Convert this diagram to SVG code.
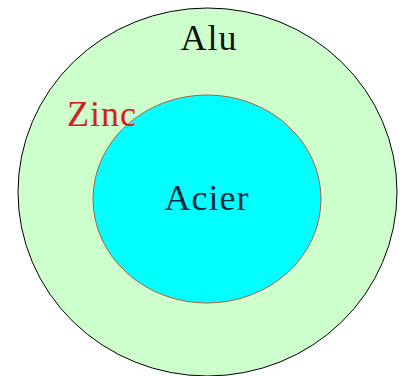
<svg xmlns="http://www.w3.org/2000/svg" width="406" height="376" viewBox="0 0 406 376">
<style>
text{font-family:"Liberation Serif","Times New Roman",serif;font-size:36px;letter-spacing:1px}
</style>
<rect width="406" height="376" fill="#ffffff"/>
<g id="alu">
<ellipse cx="207.5" cy="192" rx="189.5" ry="184" fill="#ccffcc" stroke="#000000" stroke-width="1"/>
<text x="209" y="50" text-anchor="middle" fill="#111111">Alu</text>
</g>
<g id="acier">
<ellipse cx="207" cy="199" rx="114" ry="104" fill="#00ffff" stroke="#b06040" stroke-width="1"/>
<text x="207" y="210" text-anchor="middle" fill="#0a2a3a">Acier</text>
</g>
<g id="zinc">
<text x="67" y="126" fill="#d42020">Zinc</text>
</g>
</svg>
